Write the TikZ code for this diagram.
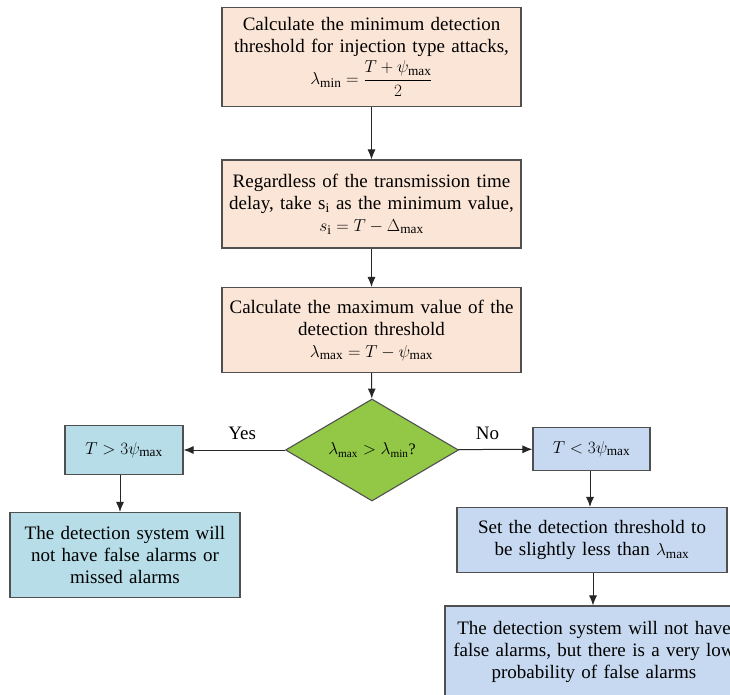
\documentclass[tikz,border=0pt]{standalone}
\usepackage{amsmath}
\usepackage{fontspec}
\setmainfont{Liberation Serif}
\usetikzlibrary{arrows.meta,shapes.geometric}

\definecolor{peach}{RGB}{251,229,214}
\definecolor{leafgreen}{RGB}{146,200,70}
\definecolor{paleteal}{RGB}{182,221,232}
\definecolor{paleblue}{RGB}{198,217,240}
\definecolor{edgegray}{RGB}{80,80,80}

\tikzset{
  stepbox/.style={draw=edgegray, line width=1.1pt, align=center, inner xsep=4pt, inner ysep=0pt,
    font=\fontsize{19}{22}\selectfont},
  calcbox/.style={stepbox, fill=peach},
  yesbox/.style={stepbox, fill=paleteal},
  nobox/.style={stepbox, fill=paleblue},
  decision/.style={diamond, draw=edgegray, line width=1.1pt, fill=leafgreen, inner sep=0pt,
    font=\fontsize{16}{20}\selectfont},
  flow/.style={draw=black!85, line width=1pt, -{Latex[length=10pt,width=8pt]}}
}

\begin{document}
\begin{tikzpicture}[x=1pt,y=-1pt]
  \clip (0,0) rectangle (730,695);

  % main column
  \node[calcbox, text width=291pt, minimum height=99pt] (calcmin) at (371.5,57)
    {Calculate the minimum detection\\ threshold for injection type attacks,\\[3pt]
     \mbox{$\lambda_{\min}=\dfrac{T+\psi_{\max}}{2}$}};
  \node[calcbox, text width=291pt, minimum height=88pt] (delay) at (371.5,204)
    {Regardless of the transmission time\\ delay, take s$_{\mathrm{i}}$ as the minimum value,\\
     \mbox{$s_{\mathrm{i}}=T-\Delta_{\max}$}};
  \node[calcbox, text width=291pt, minimum height=85pt] (calcmax) at (371.5,330)
    {Calculate the maximum value of the\\ detection threshold\\
     \mbox{$\lambda_{\max}=T-\psi_{\max}$}};
  \node[decision, minimum width=173pt, minimum height=80pt] (check) at (372,450)
    {\mbox{$\lambda_{\max}>\lambda_{\min}$?}};

  % Yes branch
  \node[yesbox, text width=110pt, minimum height=49pt] (bigT) at (124,450)
    {\mbox{$T>3\psi_{\max}$}};
  \node[yesbox, text width=222pt, minimum height=85pt] (noalarm) at (125,555)
    {The detection system will\\ not have false alarms or\\ missed alarms};

  % No branch
  \node[nobox, text width=109pt, minimum height=43pt] (smallT) at (591.5,449)
    {\mbox{$T<3\psi_{\max}$}};
  \node[nobox, text width=262pt, minimum height=65pt] (setlow) at (592,540)
    {Set the detection threshold to\\ be slightly less than \mbox{$\lambda_{\max}$}};
  \node[nobox, text width=290pt, minimum height=92pt] (lowprob) at (594,652)
    {The detection system will not have\\ false alarms, but there is a very low\\ probability of false alarms};

  % connectors
  \draw[flow] (calcmin) -- (delay);
  \draw[flow] (delay) -- (calcmax);
  \draw[flow] (calcmax) -- (check);
  \draw[flow] (check) -- node[above=6pt, xshift=8pt, font=\fontsize{19}{22}\selectfont] {Yes} (bigT);
  \draw[flow] (check) -- node[above=6pt, xshift=-8pt, font=\fontsize{19}{22}\selectfont] {No} (smallT);
  \draw[flow] ([xshift=-4pt]bigT.south) -- ([xshift=-5pt]noalarm.north);
  \draw[flow] ([xshift=-1.5pt]smallT.south) -- ([xshift=-2pt]setlow.north);
  \draw[flow] ([xshift=1pt]setlow.south) -- ([xshift=-1pt]lowprob.north);
\end{tikzpicture}
\end{document}
